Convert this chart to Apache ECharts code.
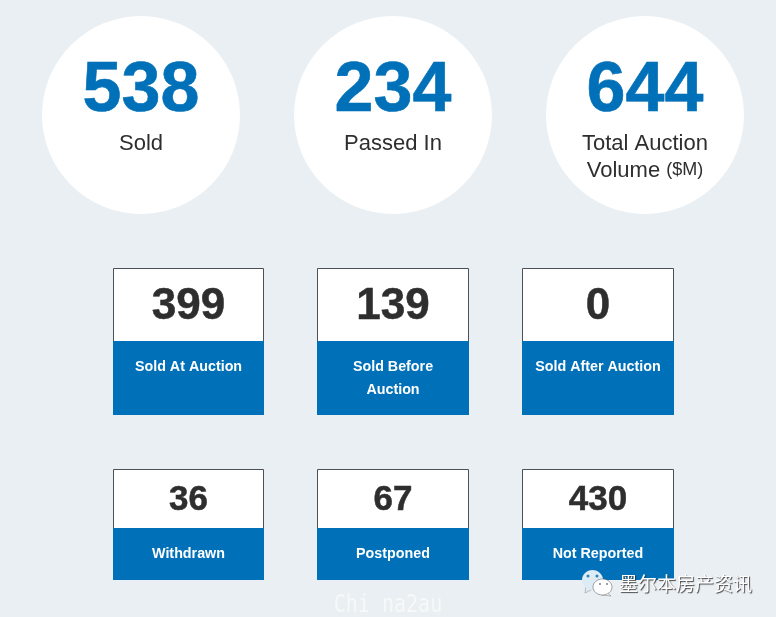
<!DOCTYPE html>
<html><head><meta charset="utf-8">
<style>html,body{margin:0;padding:0;background:#e9eff2}#c{width:776px;height:617px}</style>
<script src="https://cdn.jsdelivr.net/npm/echarts@6/dist/echarts.min.js"></script>
</head><body><div id="c"></div>
<script>
const headlineValues = [538, 234, 644];
const headlineLabels = ['Sold', 'Passed In', 'Total Auction'];
const headlineLabels2 = ['', '', 'Volume'];
const headlineUnits = ['', '', '($M)'];
const soldValues = [399, 139, 0];
const soldLabels = ['Sold At Auction', 'Sold Before\nAuction', 'Sold After Auction'];
const otherValues = [36, 67, 430];
const otherLabels = ['Withdrawn', 'Postponed', 'Not Reported'];

const FONT = '"Liberation Sans", Arial, sans-serif';
const BLUE = '#0070b8', DARK = '#2e2e2e', EDGE = '#4b5157', BG = '#e9eff2';
const circleCx = [141, 393, 645];
const cardX = [[113, 264], [317, 469], [522, 674]];

function txt(text, x, y, size, weight, fill, extra) {
  return {type: 'text', silent: true, style: Object.assign({
    text, x, y, fill, align: 'center', verticalAlign: 'middle',
    font: weight + ' ' + size + 'px ' + FONT}, extra || {})};
}
function circleItem(params, api) {
  const i = params.dataIndex, cx = circleCx[i];
  const kids = [
    {type: 'circle', shape: {cx, cy: 115, r: 99}, style: {fill: '#fff'}},
    txt(String(headlineValues[i]), cx, 92, 70, 'bold', BLUE, {stroke: BLUE, lineWidth: 0.6}),
    txt(headlineLabels[i], cx, 143.5, 22, 'normal', DARK)
  ];
  if (headlineLabels2[i]) {
    kids.push(txt('{a|' + headlineLabels2[i] + '} {b|' + headlineUnits[i] + '}', cx, 170.5, 22, 'normal', DARK,
      {rich: {a: {font: 'normal 22px ' + FONT, fill: DARK}, b: {font: 'normal 18px ' + FONT, fill: DARK}}}));
  }
  return {type: 'group', children: kids};
}
function cardItem(values, labels, top, mid, bottom, numSize, numY, labelY, lh) {
  return function (params, api) {
    const i = params.dataIndex, x0 = cardX[i][0], x1 = cardX[i][1];
    const w = x1 - x0, cx = (x0 + x1) / 2;
    const kids = [
      {type: 'rect', shape: {x: x0 + .5, y: top + .5, width: w - 1, height: mid - top}, style: {fill: '#fff', stroke: EDGE, lineWidth: 1}},
      {type: 'rect', shape: {x: x0, y: mid, width: w, height: bottom - mid}, style: {fill: BLUE}},
      txt(String(values[i]), cx, numY, numSize, 'bold', DARK, {stroke: DARK, lineWidth: 0.5})
    ];
    labels[i].split('\n').forEach(function (s, k) {
      kids.push(txt(s, cx, labelY + k * lh, 14.3, 'bold', '#fff'));
    });
    return {type: 'group', children: kids};
  };
}
const chart = echarts.init(document.getElementById('c'), null, {renderer: 'canvas'});
const W = {z: 100, silent: true};
chart.setOption({
  animation: false,
  backgroundColor: BG,
  tooltip: {show: false},
  series: [
    {type: 'custom', name: 'Headline', coordinateSystem: 'none', data: headlineValues, renderItem: circleItem, silent: true},
    {type: 'custom', name: 'Sold', coordinateSystem: 'none', data: soldValues, silent: true,
      renderItem: cardItem(soldValues, soldLabels, 268, 341, 415, 44, 307, 367, 23)},
    {type: 'custom', name: 'Other', coordinateSystem: 'none', data: otherValues, silent: true,
      renderItem: cardItem(otherValues, otherLabels, 469, 528, 580, 35, 500, 554, 23)}
  ],
  graphic: {elements: [
    Object.assign({type: 'polygon', shape: {points: [[586, 586], [585, 593], [593, 589]]}, style: {fill: '#dcebf4', stroke: '#888', lineWidth: .5}}, W),
    Object.assign({type: 'ellipse', shape: {cx: 592.5, cy: 580, rx: 10.5, ry: 10}, style: {fill: '#dcebf4'}}, W),
    Object.assign({type: 'circle', shape: {cx: 588, cy: 576, r: 1.5}, style: {fill: '#2f7fb8'}}, W),
    Object.assign({type: 'circle', shape: {cx: 597, cy: 576, r: 1.5}, style: {fill: '#2f7fb8'}}, W),
    Object.assign({type: 'polygon', shape: {points: [[606, 592], [611, 596], [602, 595]]}, style: {fill: '#fff', stroke: '#777', lineWidth: .5}}, W),
    Object.assign({type: 'ellipse', shape: {cx: 602.5, cy: 587, rx: 9.5, ry: 8}, style: {fill: '#fff', stroke: '#666', lineWidth: .6}}, W),
    Object.assign({type: 'circle', shape: {cx: 600, cy: 584, r: 1.1}, style: {fill: '#8a8a8a'}}, W),
    Object.assign({type: 'circle', shape: {cx: 607, cy: 584, r: 1.1}, style: {fill: '#8a8a8a'}}, W),
    Object.assign({type: 'text', style: {text: '墨尔本房产资讯', x: 619, y: 584, verticalAlign: 'middle', fill: '#fff',
      font: 'normal 19px "Noto Sans CJK SC"', textShadowColor: 'rgba(40,40,40,.85)', textShadowBlur: 1, textShadowOffsetX: 1, textShadowOffsetY: 1}}, W),
    Object.assign({type: 'text', x: 388, y: 606, scaleY: 1.2, style: {text: 'Chi na2au', x: 0, y: 0, align: 'center', verticalAlign: 'middle', fill: '#f6f8f9',
      font: 'normal 20px "DejaVu Sans Mono"'}}, W)
  ]}
});
</script></body></html>
